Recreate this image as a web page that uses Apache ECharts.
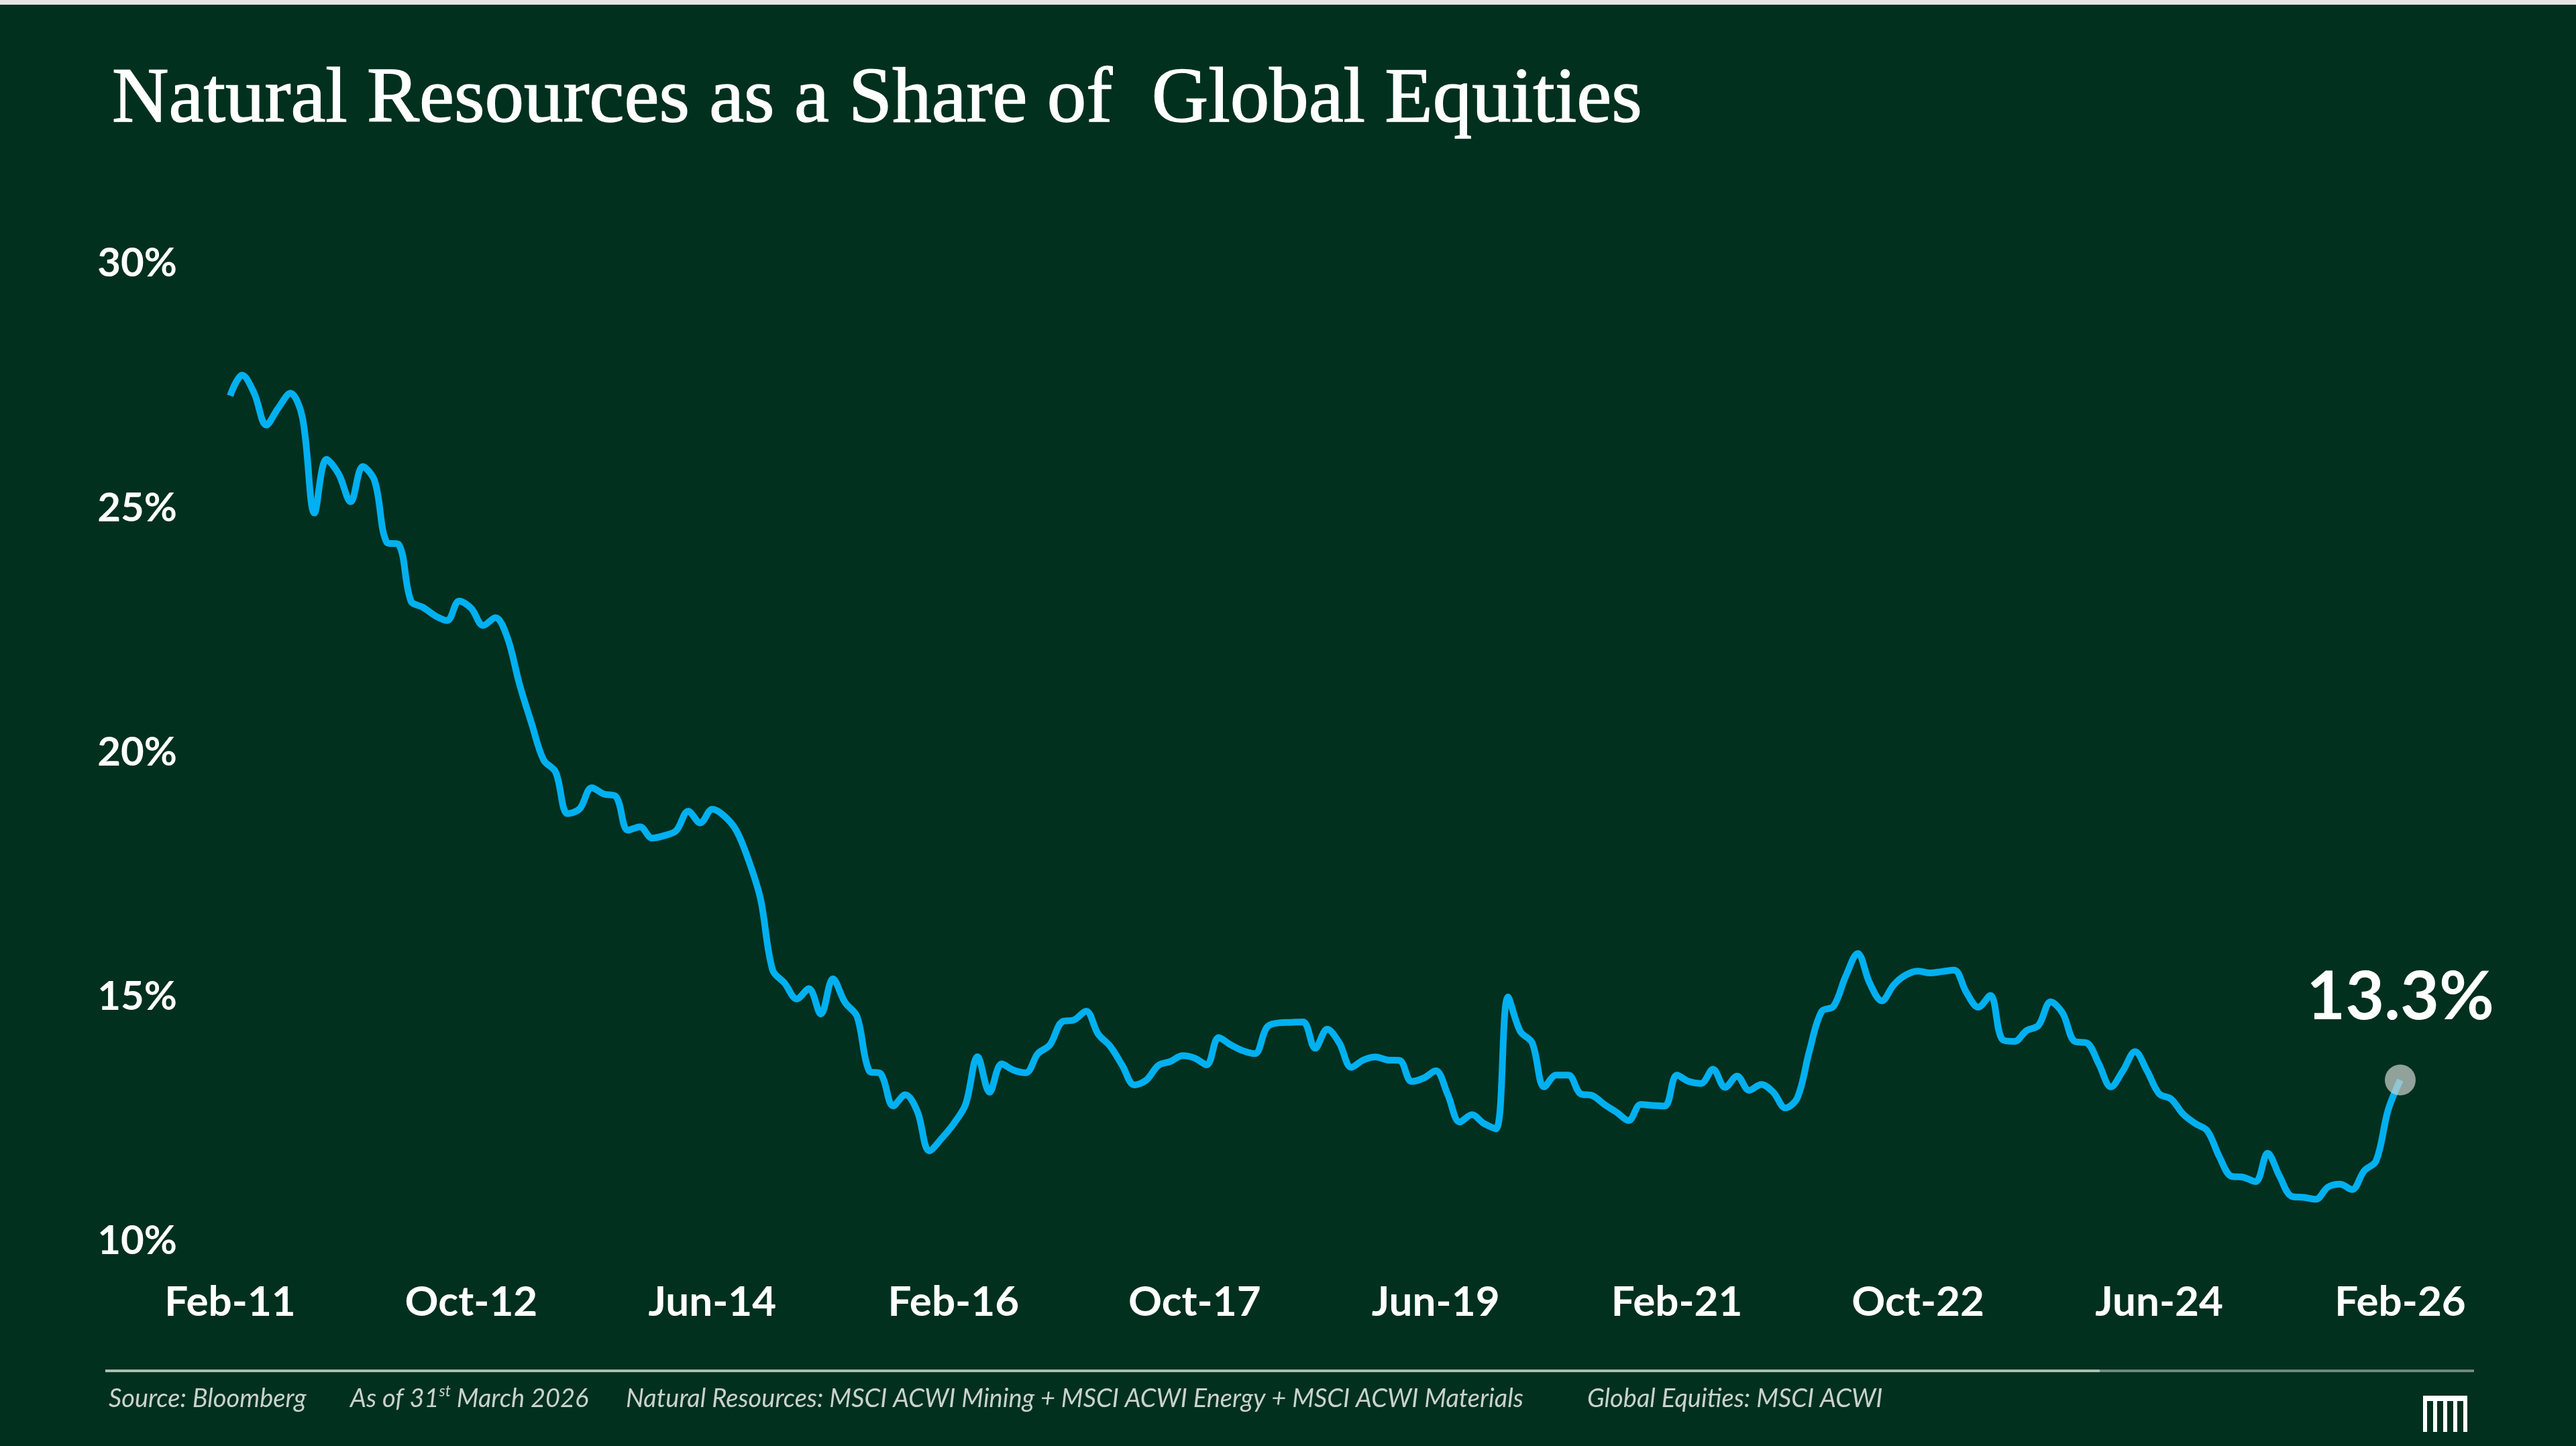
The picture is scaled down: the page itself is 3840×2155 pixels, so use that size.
<!DOCTYPE html>
<html>
<head>
<meta charset="utf-8">
<title>Natural Resources as a Share of Global Equities</title>
<script src="https://cdn.jsdelivr.net/npm/echarts@6/dist/echarts.min.js"></script>
<style>
  html, body { margin: 0; padding: 0; background: #01301f; }
  #chart { width: 3840px; height: 2155px; }
</style>
</head>
<body>
<div id="chart"></div>
<script>
// monthly, Feb-11 .. Feb-26
var monthNames = ['Jan', 'Feb', 'Mar', 'Apr', 'May', 'Jun', 'Jul', 'Aug', 'Sep', 'Oct', 'Nov', 'Dec'];
var startYear = 2011, startMonth = 1;

// share of MSCI ACWI (%)
var shareValues = [
    27.30, 27.72, 27.35, 26.70, 27.05, 27.35, 26.85, 24.90, 26.00, 25.70,
    25.13, 25.85, 25.55, 24.30, 24.25, 23.10, 22.97, 22.80, 22.70, 23.10,
    22.95, 22.60, 22.76, 22.35, 21.40, 20.60, 19.85, 19.60, 18.75, 18.85,
    19.28, 19.15, 19.10, 18.41, 18.48, 18.25, 18.30, 18.40, 18.80, 18.56,
    18.84, 18.70, 18.40, 17.80, 17.00, 15.55, 15.28, 14.96, 15.17, 14.65,
    15.37, 14.89, 14.60, 13.49, 13.42, 12.77, 13.00, 12.66, 11.85, 12.10,
    12.40, 12.80, 13.78, 13.05, 13.63, 13.50, 13.45, 13.84, 14.02, 14.49,
    14.53, 14.71, 14.24, 13.99, 13.60, 13.20, 13.30, 13.60, 13.68, 13.80,
    13.75, 13.61, 14.17, 14.02, 13.90, 13.84, 14.38, 14.47, 14.48, 14.49,
    13.95, 14.34, 14.06, 13.56, 13.71, 13.77, 13.71, 13.70, 13.27, 13.34,
    13.49, 13.00, 12.44, 12.59, 12.41, 12.30, 15.00, 14.30, 14.06, 13.16,
    13.40, 13.40, 13.02, 12.98, 12.80, 12.64, 12.47, 12.80, 12.78, 12.77,
    13.40, 13.27, 13.23, 13.52, 13.15, 13.38, 13.09, 13.21, 13.05, 12.73,
    12.94, 13.90, 14.70, 14.81, 15.42, 15.89, 15.28, 14.92, 15.25, 15.45,
    15.53, 15.49, 15.52, 15.55, 15.10, 14.79, 15.03, 14.13, 14.09, 14.31,
    14.42, 14.90, 14.67, 14.09, 14.06, 13.63, 13.16, 13.49, 13.88, 13.49,
    13.02, 12.91, 12.60, 12.41, 12.26, 11.73, 11.33, 11.31, 11.22, 11.80,
    11.33, 10.92, 10.90, 10.86, 11.11, 11.17, 11.06, 11.44, 11.65, 12.69,
    13.30
];

var yTicks = [10, 15, 20, 25, 30];

var footerNotes = [
    'Source: Bloomberg',
    'Natural Resources: MSCI ACWI Mining + MSCI ACWI Energy + MSCI ACWI Materials',
    'Global Equities: MSCI ACWI'
];

var categories = [];
for (var i = 0; i < shareValues.length; i++) {
    var m = (startMonth + i) % 12;
    var y = startYear + Math.floor((startMonth + i) / 12);
    categories.push(monthNames[m] + '-' + String(y).slice(2));
}

var lastIdx = shareValues.length - 1;
var lastVal = shareValues[lastIdx];

var labelFont = 'Lato, "Open Sans", sans-serif';
var footFont = 'italic 38px Lato, "Open Sans", sans-serif';
var footColor = '#c9d2cc';

var myChart = echarts.init(document.getElementById('chart'));

var option = {
    backgroundColor: '#01301f',
    animation: false,
    grid: {
        left: 343,
        right: 262,
        top: 393,
        bottom: 305
    },
    xAxis: {
        type: 'category',
        data: categories,
        boundaryGap: false,
        axisLine: {show: false},
        axisTick: {show: false},
        splitLine: {show: false},
        axisLabel: {
            interval: 19,
            margin: 60,
            color: '#ffffff',
            fontFamily: labelFont,
            fontWeight: 'bold',
            fontSize: 62
        }
    },
    yAxis: {
        type: 'value',
        min: yTicks[0],
        max: yTicks[yTicks.length - 1],
        interval: 5,
        axisLine: {show: false},
        axisTick: {show: false},
        splitLine: {show: false},
        axisLabel: {
            margin: 79,
            color: '#ffffff',
            fontFamily: labelFont,
            fontWeight: 'bold',
            fontSize: 60,
            formatter: '{value}%'
        }
    },
    series: [
        {
            type: 'line',
            data: shareValues,
            smooth: 0.35,
            symbol: 'none',
            lineStyle: {
                color: '#00b0f0',
                width: 10
            },
            markPoint: {
                symbol: 'circle',
                symbolSize: 46,
                itemStyle: {
                    color: 'rgba(200, 206, 202, 0.72)'
                },
                label: {
                    show: true,
                    position: 'top',
                    distance: 50,
                    color: '#ffffff',
                    fontFamily: labelFont,
                    fontWeight: 'bold',
                    fontSize: 100,
                    formatter: function (p) {
                        return p.value.toFixed(1) + '%';
                    }
                },
                data: [
                    {coord: [lastIdx, lastVal], value: lastVal}
                ]
            }
        }
    ],
    graphic: [
        {
            type: 'rect',
            shape: {x: 0, y: 0, width: 3840, height: 7},
            style: {fill: '#e6e6e6'}
        },
        {
            type: 'text',
            x: 167,
            y: 150,
            style: {
                text: 'Natural Resources as a Share of  Global Equities',
                fill: '#ffffff',
                stroke: '#ffffff',
                lineWidth: 1.5,
                font: '117px "Liberation Serif", "DejaVu Serif", serif',
                verticalAlign: 'middle'
            }
        },
        {
            type: 'line',
            shape: {x1: 157, y1: 2043, x2: 3130, y2: 2043},
            style: {stroke: '#a9bfb0', lineWidth: 4}
        },
        {
            type: 'line',
            shape: {x1: 3130, y1: 2043, x2: 3688, y2: 2043},
            style: {stroke: '#6f8a7a', lineWidth: 4}
        },
        {
            type: 'text',
            x: 162,
            y: 2085,
            style: {
                text: footerNotes[0],
                fill: footColor,
                font: footFont,
                verticalAlign: 'middle'
            }
        },
        {
            type: 'text',
            x: 522,
            y: 2085,
            style: {
                text: '{a|As of 31}{s|st}{a| March 2026}',
                verticalAlign: 'middle',
                rich: {
                    a: {
                        fill: footColor,
                        fontFamily: 'Lato, "Open Sans", sans-serif',
                        fontStyle: 'italic',
                        fontSize: 38,
                        lineHeight: 46
                    },
                    s: {
                        fill: footColor,
                        fontFamily: 'Lato, "Open Sans", sans-serif',
                        fontStyle: 'italic',
                        fontSize: 23,
                        lineHeight: 46,
                        verticalAlign: 'top'
                    }
                }
            }
        },
        {
            type: 'text',
            x: 933,
            y: 2085,
            style: {
                text: footerNotes[1],
                fill: footColor,
                font: footFont,
                verticalAlign: 'middle'
            }
        },
        {
            type: 'text',
            x: 2366,
            y: 2085,
            style: {
                text: footerNotes[2],
                fill: footColor,
                font: footFont,
                verticalAlign: 'middle'
            }
        },
        // little logo, bottom right
        {
            type: 'group',
            x: 3612,
            y: 2080,
            children: [
                {type: 'rect', shape: {x: 0, y: 0, width: 66, height: 8}, style: {fill: '#ffffff'}},
                {type: 'rect', shape: {x: 0, y: 8, width: 6, height: 46}, style: {fill: '#ffffff'}},
                {type: 'rect', shape: {x: 15, y: 8, width: 6, height: 46}, style: {fill: '#ffffff'}},
                {type: 'rect', shape: {x: 30, y: 8, width: 6, height: 46}, style: {fill: '#ffffff'}},
                {type: 'rect', shape: {x: 45, y: 8, width: 6, height: 46}, style: {fill: '#ffffff'}},
                {type: 'rect', shape: {x: 60, y: 8, width: 6, height: 46}, style: {fill: '#ffffff'}}
            ]
        }
    ]
};

myChart.setOption(option);
</script>
</body>
</html>
